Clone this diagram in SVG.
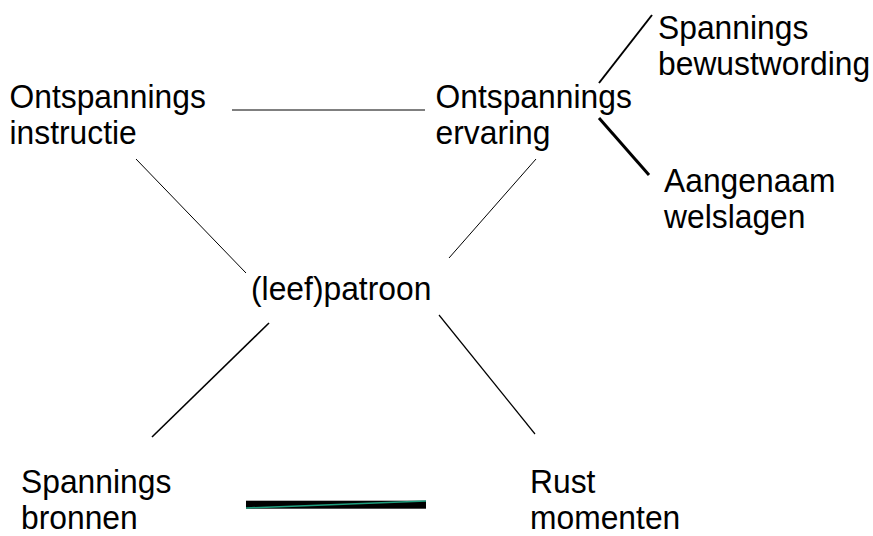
<svg xmlns="http://www.w3.org/2000/svg" width="873" height="536" viewBox="0 0 873 536">
<style>
text{font-family:"Liberation Sans",Arial,sans-serif;font-size:33.5px;fill:#000}
.c line{stroke:#000;stroke-linecap:butt}
</style>
<rect width="873" height="536" fill="#fff"/>
<g class="c" id="connectors">
<line x1="232" y1="110" x2="425" y2="110" stroke-width="1"/>
<line x1="136" y1="159" x2="246" y2="273" stroke-width="1"/>
<line x1="536" y1="159" x2="449" y2="258" stroke-width="1"/>
<line x1="269" y1="323" x2="152" y2="437" stroke-width="1.6"/>
<line x1="439" y1="315" x2="535" y2="434" stroke-width="1.2"/>
<line x1="652" y1="15" x2="599" y2="83" stroke-width="2"/>
<line x1="599" y1="118" x2="649" y2="175" stroke-width="3"/>
<rect x="246" y="500.7" width="180" height="8" fill="#000"/>
<line x1="246" y1="508" x2="426" y2="501" stroke-width="1.5" style="stroke:#1f9e7e"/>
</g>
<g id="n-instructie"><text transform="translate(9.5,108) scale(0.95,1)">Ontspannings</text><text transform="translate(9.5,144) scale(0.95,1)">instructie</text></g>
<g id="n-ervaring"><text transform="translate(435.5,108) scale(0.95,1)">Ontspannings</text><text transform="translate(435.5,144) scale(0.95,1)">ervaring</text></g>
<g id="n-bewustwording"><text transform="translate(658,39) scale(0.95,1)">Spannings</text><text transform="translate(658,75) scale(0.95,1)">bewustwording</text></g>
<g id="n-welslagen"><text transform="translate(664,192) scale(0.95,1)">Aangenaam</text><text transform="translate(664,228) scale(0.95,1)">welslagen</text></g>
<g id="n-patroon"><text transform="translate(251,300) scale(0.95,1)">(leef)patroon</text></g>
<g id="n-bronnen"><text transform="translate(21,493) scale(0.95,1)">Spannings</text><text transform="translate(21,529) scale(0.95,1)">bronnen</text></g>
<g id="n-rust"><text transform="translate(530,493) scale(0.95,1)">Rust</text><text transform="translate(530,529) scale(0.95,1)">momenten</text></g>
</svg>
